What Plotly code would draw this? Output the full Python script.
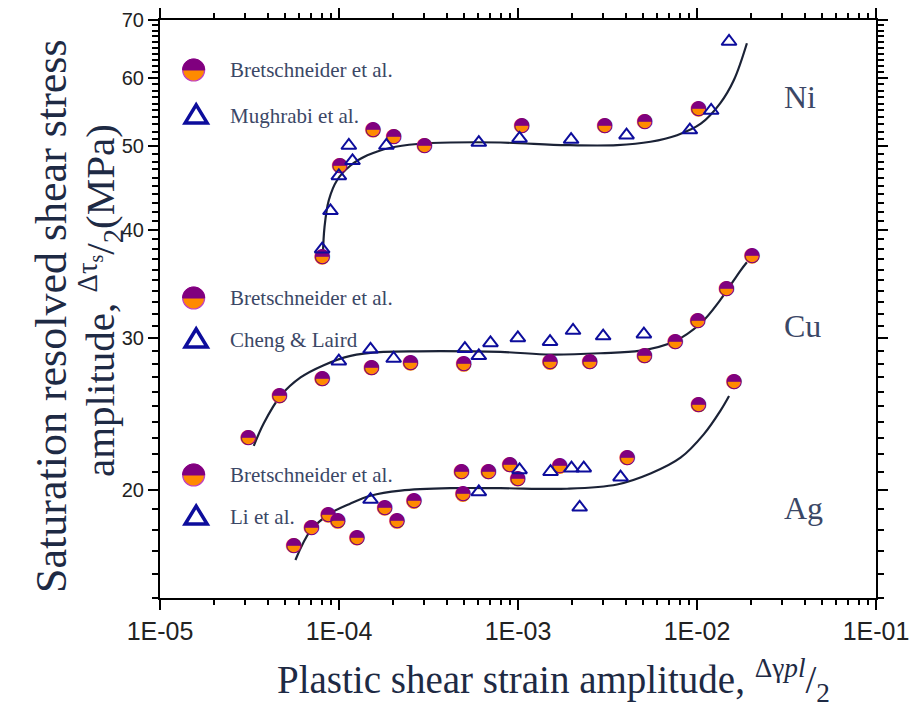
import plotly.graph_objects as go

# ---------------- data ----------------
ni_bret_x = [8.05e-5, 1.01e-4, 1.55e-4, 2.02e-4, 3.0e-4, 1.05e-3, 3.05e-3, 5.1e-3, 1.02e-2]
ni_bret_y = [37.2, 47.5, 52.2, 51.3, 50.1, 52.8, 52.8, 53.4, 55.2]
ni_mugh_x = [8.05e-5, 8.96e-5, 9.98e-5, 1.135e-4, 1.19e-4, 1.84e-4, 6.04e-4, 1.02e-3,
             1.98e-3, 4.04e-3, 9.12e-3, 1.2e-2, 1.51e-2]
ni_mugh_y = [38.0, 42.1, 46.2, 50.1, 48.1, 50.1, 50.5, 51.05, 50.9, 51.5, 52.2, 55.0, 66.1]
ni_fit_x = [8.12e-5, 8.30e-5, 8.77e-5, 9.77e-5, 1.16e-4, 1.44e-4, 1.94e-4, 2.74e-4, 4.2e-4,
            7.98e-4, 1.88e-3, 3.58e-3, 5.5e-3, 7.74e-3, 1.05e-2, 1.35e-2, 1.61e-2, 1.9e-2]
ni_fit_y = [37.2, 40.3, 43.3, 45.7, 47.5, 48.8, 49.8, 50.3, 50.5,
            50.5, 50.15, 50.15, 50.6, 51.5, 53.1, 56.1, 59.7, 65.8]

cu_bret_x = [3.11e-5, 4.65e-5, 8.05e-5, 1.52e-4, 2.51e-4, 4.98e-4, 1.51e-3, 2.52e-3,
             5.09e-3, 7.55e-3, 1.01e-2, 1.46e-2, 2.03e-2]
cu_bret_y = [23.0, 25.7, 26.9, 27.7, 28.05, 27.96, 28.1, 28.15, 28.6, 29.7, 31.4, 34.2, 37.3]
cu_cl_x = [9.98e-5, 1.5e-4, 2.02e-4, 5.05e-4, 6.04e-4, 7.02e-4, 9.98e-4, 1.51e-3,
           2.03e-3, 2.99e-3, 5.05e-3]
cu_cl_y = [28.2, 29.1, 28.4, 29.15, 28.6, 29.6, 30.0, 29.7, 30.6, 30.15, 30.3]
cu_fit_x = [3.34e-5, 3.8e-5, 4.71e-5, 6.1e-5, 8.22e-5, 1.16e-4, 1.78e-4, 2.74e-4, 7.98e-4,
            1.52e-3, 2.89e-3, 4.83e-3, 7.41e-3, 1.05e-2, 1.35e-2, 1.75e-2, 1.9e-2]
cu_fit_y = [22.5, 23.9, 25.7, 27.0, 27.9, 28.6, 28.9, 28.95, 28.9,
            28.7, 28.8, 29.0, 29.7, 31.2, 33.2, 35.9, 36.7]

ag_bret_x = [5.59e-5, 7.01e-5, 8.7e-5, 9.84e-5, 1.26e-4, 1.80e-4, 2.11e-4, 2.62e-4, 4.83e-4,
             4.92e-4, 6.83e-4, 9.0e-4, 9.97e-4, 1.71e-3, 4.07e-3, 1.02e-2, 1.61e-2]
ag_bret_y = [17.25, 18.1, 18.7, 18.4, 17.6, 19.05, 18.4, 19.4, 21.0,
             19.77, 21.0, 21.4, 20.6, 21.3, 21.8, 25.1, 26.7]
ag_li_x = [1.5e-4, 6.04e-4, 1.02e-3, 1.52e-3, 1.99e-3, 2.21e-3, 2.33e-3, 3.74e-3]
ag_li_y = [19.5, 19.9, 21.1, 21.0, 21.2, 19.1, 21.2, 20.7]
ag_fit_x = [5.71e-5, 6.94e-5, 8.96e-5, 1.16e-4, 1.5e-4, 2.21e-4, 4.2e-4, 7.98e-4,
            1.88e-3, 3.58e-3, 5.5e-3, 8.09e-3, 1.09e-2, 1.35e-2, 1.51e-2]
ag_fit_y = [16.6, 17.95, 18.8, 19.3, 19.7, 19.97, 20.1, 20.1,
            20.07, 20.3, 20.9, 21.8, 23.2, 24.7, 25.7]

x_tickvals = [1e-5, 1e-4, 1e-3, 1e-2, 1e-1]
x_ticktext = ["1E-05", "1E-04", "1E-03", "1E-02", "1E-01"]
y_tickvals = [20, 30, 40, 50, 60, 70]
y_ticktext = ["20", "30", "40", "50", "60", "70"]

# ---------------- styles ----------------
PURPLE = "#80007f"
ORANGE = "#ff8a00"
EDGE = "#c040c0"
TRI = "#0d0d9c"
FIT = "#1b2236"
TXT = "#3b4766"
GLYPH_SIZE = 20
DISK_SIZE = 15
GLYPH_FONT = "DejaVu Sans"

fig = go.Figure()


def add_fit(x, y):
    fig.add_trace(go.Scatter(x=x, y=y, mode="lines",
                             line=dict(color=FIT, width=2.2, shape="spline", smoothing=1.0),
                             showlegend=False, hoverinfo="skip"))


def add_half_circles(x, y, name):
    # orange disk + purple "upper half black" circle glyph on top
    fig.add_trace(go.Scatter(x=x, y=y, mode="markers+text", text=["◓"] * len(x), textposition="middle center",
                             marker=dict(symbol="circle", size=DISK_SIZE, color=ORANGE, line=dict(width=0)),
                             textfont=dict(family=GLYPH_FONT, size=GLYPH_SIZE, color=PURPLE),
                             showlegend=False, name=name))


def add_triangles(x, y, name):
    fig.add_trace(go.Scatter(x=x, y=y, mode="markers",
                             marker=dict(symbol="triangle-up-open", size=13, color=TRI,
                                         line=dict(width=2, color=TRI)),
                             showlegend=False, name=name))


add_fit(ni_fit_x, ni_fit_y)
add_fit(cu_fit_x, cu_fit_y)
add_fit(ag_fit_x, ag_fit_y)
add_half_circles(ni_bret_x, ni_bret_y, "Bretschneider et al.")
add_triangles(ni_mugh_x, ni_mugh_y, "Mughrabi et al.")
add_half_circles(cu_bret_x, cu_bret_y, "Bretschneider et al.")
add_triangles(cu_cl_x, cu_cl_y, "Cheng & Laird")
add_half_circles(ag_bret_x, ag_bret_y, "Bretschneider et al.")
add_triangles(ag_li_x, ag_li_y, "Li et al.")

annotations = []
shapes = []
R = 11      # legend circle radius (px)
K = 0.5523  # bezier quarter-circle constant
top_half = (f"M {-R} 0 C {-R} {K*R:.2f} {-K*R:.2f} {R} 0 {R} "
            f"C {K*R:.2f} {R} {R} {K*R:.2f} {R} 0 Z")
tri_path = "M -11 -7 L 11 -7 L 0 11 Z"

legend_rows = [
    (0.9135, "circle", "Bretschneider et al."),
    (0.834, "tri", "Mughrabi et al."),
    (0.519, "circle", "Bretschneider et al."),
    (0.4464, "tri", "Cheng & Laird"),
    (0.2128, "circle", "Bretschneider et al."),
    (0.140, "tri", "Li et al."),
]
for ly, kind, label in legend_rows:
    if kind == "circle":
        shapes.append(dict(type="circle", xref="paper", yref="paper", xsizemode="pixel", ysizemode="pixel",
                           xanchor=0.047, yanchor=ly, x0=-R, x1=R, y0=-R, y1=R,
                           fillcolor=ORANGE, line=dict(color=EDGE, width=1.2), layer="above"))
        shapes.append(dict(type="path", xref="paper", yref="paper", xsizemode="pixel", ysizemode="pixel",
                           xanchor=0.047, yanchor=ly, path=top_half,
                           fillcolor=PURPLE, line=dict(color=PURPLE, width=1), layer="above"))
    else:
        shapes.append(dict(type="path", xref="paper", yref="paper", xsizemode="pixel", ysizemode="pixel",
                           xanchor=0.0505, yanchor=ly, path=tri_path,
                           fillcolor="rgba(0,0,0,0)", line=dict(color=TRI, width=3.5), layer="above"))
    annotations.append(dict(x=0.0956, y=ly, xref="paper", yref="paper", text=label, showarrow=False,
                            xanchor="left", yanchor="middle",
                            font=dict(family="Liberation Serif", size=21, color=TXT)))

for lx, ly, lab in [(0.894, 0.867, "Ni"), (0.898, 0.470, "Cu"), (0.899, 0.156, "Ag")]:
    annotations.append(dict(x=lx, y=ly, xref="paper", yref="paper", text=lab, showarrow=False,
                            xanchor="center", yanchor="middle",
                            font=dict(family="Liberation Serif", size=32, color=TXT)))

# axis titles
TITLE_Y = dict(family="Liberation Serif", size=44, color="#1e2a44")
TITLE_Y2 = dict(family="Liberation Serif", size=41, color="#1e2a44")
TITLE_X = dict(family="Liberation Serif", size=39, color="#1e2a44")
annotations.append(dict(x=-0.1508, y=0.488, xref="paper", yref="paper", text="Saturation resolved shear stress",
                        showarrow=False, textangle=-90, xanchor="center", yanchor="middle", font=TITLE_Y))
annotations.append(dict(x=-0.0838, y=0.5156, xref="paper", yref="paper",
                        text="amplitude, <sup>Δτ<sub>s</sub></sup>/<sub>2</sub>(MPa)",
                        showarrow=False, textangle=-90, xanchor="center", yanchor="middle", font=TITLE_Y2))
annotations.append(dict(x=0.549, y=-0.142, xref="paper", yref="paper",
                        text="Plastic shear strain amplitude, <sup>Δγ<i>pl</i></sup>/<sub>2</sub>",
                        showarrow=False, xanchor="center", yanchor="middle", font=TITLE_X))

x_minor = [m * d for d in [1e-5, 1e-4, 1e-3, 1e-2] for m in range(2, 10)]
y_minor = [v for v in range(15, 71) if v % 10 != 0]

axis_common = dict(showline=True, linecolor="black", linewidth=2, mirror="ticks", ticks="outside",
                   ticklen=10, tickwidth=2, tickcolor="black", showgrid=False, zeroline=False,
                   automargin=False)

fig.update_layout(
    width=911, height=709,
    margin=dict(l=160, r=35, t=20, b=111),
    paper_bgcolor="white", plot_bgcolor="white",
    showlegend=False,
    xaxis=dict(type="log", range=[-5, -1], tickmode="array", tickvals=x_tickvals, ticktext=x_ticktext,
               tickfont=dict(family="Liberation Sans", size=25, color="#222222"),
               minor=dict(tickmode="array", tickvals=x_minor, ticks="outside", ticklen=5, tickwidth=1.5,
                          tickcolor="black", showgrid=False),
               ticklabelstandoff=0, **axis_common),
    yaxis=dict(type="log", range=[1.1761, 1.8451], tickmode="array", tickvals=y_tickvals, ticktext=y_ticktext,
               tickfont=dict(family="Liberation Sans", size=20, color="#222222"),
               minor=dict(tickmode="array", tickvals=y_minor, ticks="outside", ticklen=6, tickwidth=1.5,
                          tickcolor="black", showgrid=False),
               **axis_common),
    annotations=annotations,
    shapes=shapes,
)

fig.write_html("out.html")
